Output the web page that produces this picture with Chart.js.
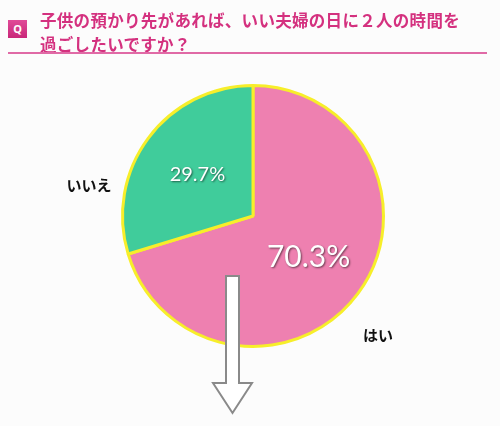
<!DOCTYPE html>
<html>
<head>
<meta charset="utf-8">
<script src="https://cdn.jsdelivr.net/npm/chart.js@4"></script>
<style>
  html, body { margin: 0; padding: 0; background: #fcfcfc; }
  #wrap { position: relative; width: 500px; height: 426px; }
  #title {
    position: absolute; left: 40px; top: 8px; width: 450px;
    font-family: "Noto Sans CJK JP", sans-serif; font-weight: bold;
    font-size: 16.5px; line-height: 24px; color: #d4317f; letter-spacing: 0.3px;
  }
  #q {
    position: absolute; left: 8px; top: 20px; width: 19px; height: 18px;
    background: linear-gradient(#e04b98, #c92779); color: #fff;
    font-family: "Noto Sans", sans-serif; font-size: 11px; font-weight: bold;
    text-align: center; line-height: 18px;
  }
  #rule { position: absolute; left: 8px; top: 52px; width: 479px; height: 2px; background: #e06aa6; }
  canvas { position: absolute; left: 0; top: 0; }
</style>
</head>
<body>
<div id="wrap">
  <canvas id="chartPie" width="500" height="426"></canvas>
  <div id="q">Q</div>
  <div id="title">子供の預かり先があれば、いい夫婦の日に２人の時間を<br>過ごしたいですか？</div>
  <div id="rule"></div>
</div>
<script>
// data
const labels = ['はい', 'いいえ'];
const values = [70.3, 29.7];
const colors = ['#ee80b0', '#40cc9b'];

// label placement per slice (radius factor, font size, outer label offset)
const pctSizes = [30, 20];
const outerOffsets = [[125, 119], [-164, -31]];

const labelPlugin = {
  id: 'sliceLabels',
  afterDraw(chart) {
    const ctx = chart.ctx;
    const meta = chart.getDatasetMeta(0);
    meta.data.forEach(function (arc, i) {
      const p = arc.getProps(['x', 'y', 'startAngle', 'endAngle', 'outerRadius'], true);
      const mid = (p.startAngle + p.endAngle) / 2;
      const r = p.outerRadius * 0.53;
      const tx = p.x + Math.cos(mid) * r;
      const ty = p.y + Math.sin(mid) * r;
      ctx.save();
      ctx.textAlign = 'center';
      ctx.textBaseline = 'middle';
      ctx.font = pctSizes[i] + 'px Lato, "Noto Sans", sans-serif';
      ctx.shadowColor = 'rgba(0,0,0,0.55)';
      ctx.shadowOffsetX = 1;
      ctx.shadowOffsetY = 1;
      ctx.shadowBlur = 2;
      ctx.fillStyle = '#ffffff';
      ctx.fillText(values[i].toFixed(1) + '%', tx, ty);
      ctx.restore();

      ctx.save();
      ctx.textAlign = 'center';
      ctx.textBaseline = 'middle';
      ctx.font = 'bold 15px "Noto Sans CJK JP", sans-serif';
      ctx.fillStyle = '#111';
      ctx.fillText(labels[i], p.x + outerOffsets[i][0], p.y + outerOffsets[i][1]);
      ctx.restore();
    });

    // arrow under the pie
    const c = meta.data[0];
    const cx = c.x, cy = c.y;
    ctx.save();
    ctx.beginPath();
    ctx.moveTo(cx - 27, cy + 60);
    ctx.lineTo(cx - 14, cy + 60);
    ctx.lineTo(cx - 14, cy + 167);
    ctx.lineTo(cx - 1, cy + 167);
    ctx.lineTo(cx - 20.5, cy + 197);
    ctx.lineTo(cx - 40, cy + 167);
    ctx.lineTo(cx - 27, cy + 167);
    ctx.closePath();
    ctx.fillStyle = '#ffffff';
    ctx.fill();
    ctx.lineWidth = 2;
    ctx.strokeStyle = '#8a8a8a';
    ctx.stroke();
    ctx.restore();
  }
};

document.addEventListener('DOMContentLoaded', function () {
  const ctx = document.getElementById('chartPie').getContext('2d');
  new Chart(ctx, {
    type: 'pie',
    data: {
      labels: labels,
      datasets: [{
        data: values,
        backgroundColor: colors,
        borderColor: '#f7ee2a',
        borderWidth: 3
      }]
    },
    options: {
      responsive: false,
      animation: false,
      layout: { padding: { top: 84, bottom: 78, left: 20, right: 14 } },
      plugins: {
        legend: { display: false },
        tooltip: { enabled: false }
      }
    },
    plugins: [labelPlugin]
  });
});
</script>
</body>
</html>
